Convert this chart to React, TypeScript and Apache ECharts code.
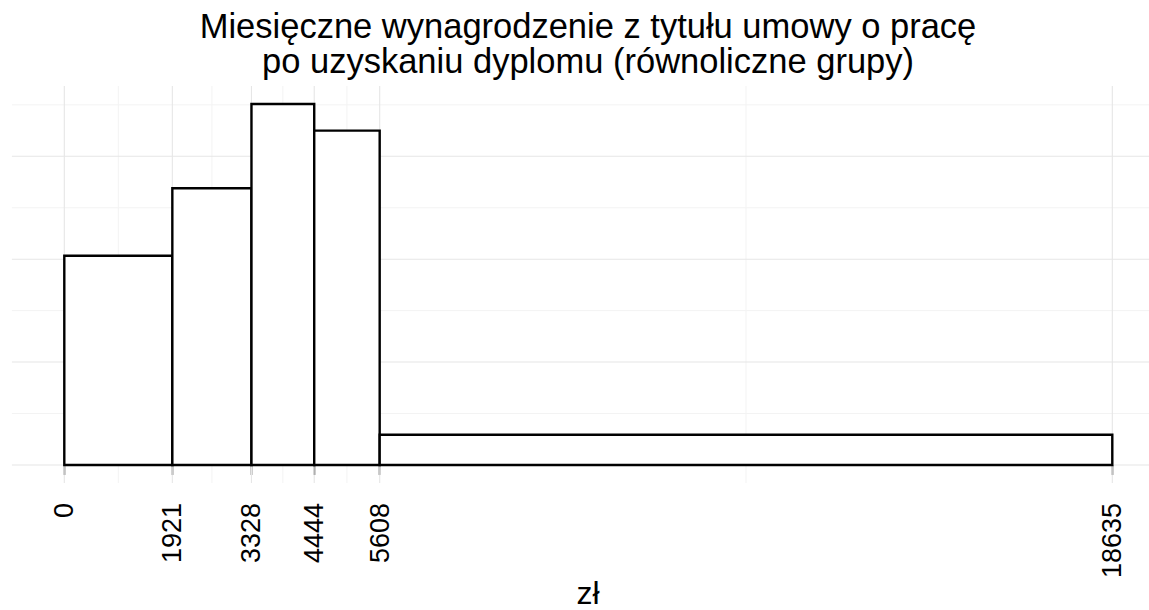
import React, { useEffect, useRef } from "react";
import * as echarts from "echarts";

// ---- data ----
const binStarts = [0, 1921, 3328, 4444, 5608];
const binEnds = [1921, 3328, 4444, 5608, 18635];
const densities = [1.017e-4, 1.345e-4, 1.754e-4, 1.625e-4, 1.47e-5];
const xBreaks = [0, 1921, 3328, 4444, 5608, 18635];
const xMinorBreaks = [960.5, 2624.5, 3886, 5026, 12121.5];
const yBreaks = [0, 5e-5, 1e-4, 1.5e-4];
const yMinorBreaks = [2.5e-5, 7.5e-5, 1.25e-4, 1.75e-4];
const titleLines = [
  "Miesięczne wynagrodzenie z tytułu umowy o pracę",
  "po uzyskaniu dyplomu (równoliczne grupy)",
];
const xTitle = "zł";

const FONT = "'Liberation Sans', Arial, Helvetica, sans-serif";

export default function App() {
  const ref = useRef<HTMLDivElement>(null);

  useEffect(() => {
    if (!ref.current) return;
    const chart = echarts.init(ref.current, null, { renderer: "svg" });

    const vGrid = (color: string, width: number) => (params: any, api: any) => {
      const cs = params.coordSys;
      const p = api.coord([api.value(0), 0]);
      return {
        type: "line",
        shape: { x1: p[0], y1: cs.y, x2: p[0], y2: cs.y + cs.height },
        style: { stroke: color, lineWidth: width },
        silent: true,
      };
    };
    const hGrid = (color: string, width: number) => (params: any, api: any) => {
      const cs = params.coordSys;
      const p = api.coord([0, api.value(1)]);
      return {
        type: "line",
        shape: { x1: cs.x, y1: p[1], x2: cs.x + cs.width, y2: p[1] },
        style: { stroke: color, lineWidth: width },
        silent: true,
      };
    };

    const minorColor = "#f3f3f3";
    const majorColor = "#e6e6e6";

    const textEl = (text: string, x: number, y: number, size: number) => ({
      type: "text",
      x,
      y,
      silent: true,
      style: {
        text,
        align: "center",
        verticalAlign: "middle",
        fontSize: size,
        fontFamily: FONT,
        fill: "#000",
      },
    });

    const option: any = {
      animation: false,
      backgroundColor: "#ffffff",
      grid: {
        left: 11.9,
        top: 86,
        width: 1152.8,
        height: 397,
        containLabel: false,
        outerBoundsMode: "none",
      },
      xAxis: {
        type: "value",
        min: -931.75,
        max: 19566.75,
        axisLine: { show: false },
        splitLine: { show: false },
        axisTick: {
          show: true,
          customValues: xBreaks,
          length: 10,
          lineStyle: { color: "#000", width: 1.4 },
        },
        axisLabel: {
          customValues: xBreaks,
          rotate: 90,
          margin: 20,
          fontSize: 27,
          color: "#000",
          fontFamily: FONT,
          formatter: (v: number) => String(v),
        },
      },
      yAxis: {
        type: "value",
        min: -8.77e-6,
        max: 1.8417e-4,
        axisLine: { show: false },
        axisTick: { show: false },
        axisLabel: { show: false },
        splitLine: { show: false },
      },
      graphic: [
        textEl(titleLines[0], 588, 26, 34.5),
        textEl(titleLines[1], 588, 61, 34.5),
        textEl(xTitle, 588, 593, 32),
      ],
      series: [
        {
          type: "custom",
          silent: true,
          z: 1,
          renderItem: vGrid(minorColor, 1),
          data: xMinorBreaks.map((v) => [v, 0]),
        },
        {
          type: "custom",
          silent: true,
          z: 1,
          renderItem: hGrid(minorColor, 1),
          data: yMinorBreaks.map((v) => [0, v]),
        },
        {
          type: "custom",
          silent: true,
          z: 2,
          renderItem: vGrid(majorColor, 1.1),
          data: xBreaks.map((v) => [v, 0]),
        },
        {
          type: "custom",
          silent: true,
          z: 2,
          renderItem: hGrid(majorColor, 1.1),
          data: yBreaks.map((v) => [0, v]),
        },
        {
          type: "custom",
          silent: true,
          z: 5,
          encode: { x: [0, 1], y: 2 },
          data: binStarts.map((s, i) => [s, binEnds[i], densities[i]]),
          renderItem: (params: any, api: any) => {
            const p0 = api.coord([api.value(0), 0]);
            const p1 = api.coord([api.value(1), api.value(2)]);
            return {
              type: "rect",
              shape: {
                x: p0[0],
                y: p1[1],
                width: p1[0] - p0[0],
                height: p0[1] - p1[1],
              },
              style: { fill: "#ffffff", stroke: "#000000", lineWidth: 2.4 },
            };
          },
        },
      ],
    };

    chart.setOption(option);
    return () => chart.dispose();
  }, []);

  return (
    <div
      ref={ref}
      style={{ position: "fixed", left: 0, top: 0, width: 1149, height: 610, background: "#fff" }}
    />
  );
}
